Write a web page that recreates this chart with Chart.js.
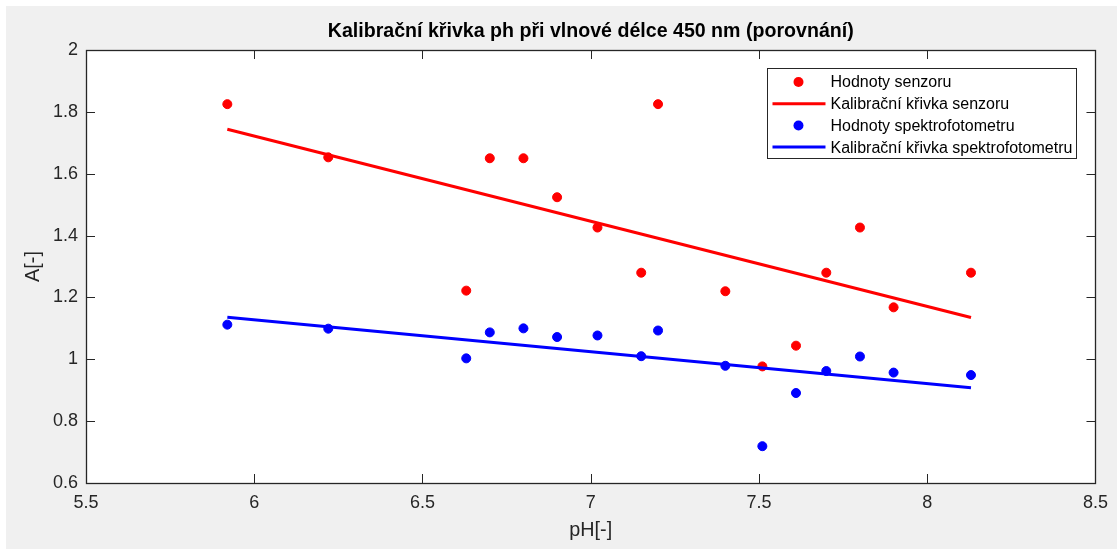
<!DOCTYPE html>
<html>
<head>
<meta charset="utf-8">
<script src="https://cdn.jsdelivr.net/npm/chart.js@4.4.1/dist/chart.umd.min.js"></script>
<style>
  html, body { margin: 0; padding: 0; background: #ffffff; }
  #wrap { width: 1117px; height: 549px; }
</style>
</head>
<body>
<div id="wrap"><canvas id="c" width="1117" height="549"></canvas></div>
<script>
// ---- data ----
const phValues = [5.92, 6.22, 6.63, 6.70, 6.80, 6.90, 7.02, 7.15, 7.20, 7.40, 7.51, 7.61, 7.70, 7.80, 7.90, 8.13];
const sensorValues = [1.825, 1.653, 1.222, 1.650, 1.650, 1.524, 1.426, 1.280, 1.825, 1.220, 0.977, 1.044, 1.280, 1.426, 1.168, 1.280];
const spectroValues = [1.112, 1.099, 1.003, 1.087, 1.100, 1.072, 1.077, 1.010, 1.093, 0.979, 0.719, 0.891, 0.962, 1.009, 0.957, 0.949];
const fitX = [5.92, 8.13];
const fitSensor = [1.744, 1.135];
const fitSpectro = [1.136, 0.908];
const xTickValues = [5.5, 6, 6.5, 7, 7.5, 8, 8.5];
const yTickValues = [0.6, 0.8, 1, 1.2, 1.4, 1.6, 1.8, 2];
const seriesLabels = ['Hodnoty senzoru', 'Kalibrační křivka senzoru', 'Hodnoty spektrofotometru', 'Kalibrační křivka spektrofotometru'];
const titleText = 'Kalibrační křivka ph při vlnové délce 450 nm (porovnání)';
const xLabel = 'pH[-]';
const yLabel = 'A[-]';

const toPts = (xs, ys) => xs.map((x, i) => ({ x: x, y: ys[i] }));
const fmtTick = (v) => String(Number(Number(v).toFixed(3)));

const FONT = "'Liberation Sans', Arial, Helvetica, sans-serif";
const AXIS_COLOR = '#262626';

const bgPlugin = {
  id: 'bgPlugin',
  beforeDraw(chart) {
    const ctx = chart.ctx;
    const a = chart.chartArea;
    ctx.save();
    ctx.fillStyle = '#ffffff';
    ctx.fillRect(0, 0, chart.width, chart.height);
    ctx.fillStyle = '#f0f0f0';
    ctx.fillRect(6, 6, chart.width - 6, chart.height - 6);
    ctx.fillStyle = '#ffffff';
    ctx.fillRect(a.left, a.top, a.right - a.left, a.bottom - a.top);
    ctx.restore();
  }
};

const boxPlugin = {
  id: 'boxPlugin',
  afterDatasetsDraw(chart) {
    const ctx = chart.ctx;
    const a = chart.chartArea;
    const xs = chart.scales.x, ys = chart.scales.y;
    const TL = 9;
    ctx.save();
    ctx.strokeStyle = AXIS_COLOR;
    ctx.lineWidth = 1;
    ctx.beginPath();
    xs.ticks.forEach(t => {
      const px = Math.round(xs.getPixelForValue(t.value)) + 0.5;
      ctx.moveTo(px, a.bottom); ctx.lineTo(px, a.bottom - TL);
      ctx.moveTo(px, a.top); ctx.lineTo(px, a.top + TL);
    });
    ys.ticks.forEach(t => {
      const py = Math.round(ys.getPixelForValue(t.value)) + 0.5;
      ctx.moveTo(a.left, py); ctx.lineTo(a.left + TL, py);
      ctx.moveTo(a.right, py); ctx.lineTo(a.right - TL, py);
    });
    ctx.stroke();
    ctx.lineWidth = 1.3;
    ctx.strokeRect(Math.round(a.left) + 0.5, Math.round(a.top) + 0.5, Math.round(a.right - a.left), Math.round(a.bottom - a.top));
    ctx.restore();
  }
};

const legendPlugin = {
  id: 'matLegend',
  afterDraw(chart) {
    const ctx = chart.ctx;
    const a = chart.chartArea;
    const right = a.right - 19, top = a.top + 18;
    const left = right - 309, bottom = top + 90;
    ctx.save();
    ctx.fillStyle = '#ffffff';
    ctx.fillRect(left, top, right - left, bottom - top);
    ctx.strokeStyle = AXIS_COLOR;
    ctx.lineWidth = 1;
    ctx.strokeRect(Math.round(left) + 0.5, Math.round(top) + 0.5, right - left, bottom - top);
    ctx.font = '16px ' + FONT;
    ctx.textBaseline = 'middle';
    ctx.textAlign = 'left';
    chart.data.datasets.forEach((ds, i) => {
      const y = top + 14 + i * 21.7;
      ctx.fillStyle = ds.borderColor;
      ctx.strokeStyle = ds.borderColor;
      if (ds.showLine) {
        ctx.lineWidth = ds.borderWidth;
        ctx.beginPath();
        ctx.moveTo(left + 5, y); ctx.lineTo(left + 58, y);
        ctx.stroke();
      } else {
        ctx.beginPath();
        ctx.arc(left + 31, y, 5, 0, Math.PI * 2);
        ctx.fill();
      }
      ctx.fillStyle = '#000000';
      ctx.fillText(ds.label, left + 63, y + 1);
    });
    ctx.restore();
  }
};

const chart = new Chart(document.getElementById('c'), {
  type: 'scatter',
  data: {
    datasets: [
      { label: seriesLabels[0], data: toPts(phValues, sensorValues), showLine: false,
        backgroundColor: '#ff0000', borderColor: '#ff0000', pointRadius: 4.5, pointBorderWidth: 1, pointHoverRadius: 4.5, order: 4 },
      { label: seriesLabels[1], data: toPts(fitX, fitSensor), showLine: true, borderWidth: 3,
        backgroundColor: '#ff0000', borderColor: '#ff0000', pointRadius: 0, pointHoverRadius: 0, order: 3 },
      { label: seriesLabels[2], data: toPts(phValues, spectroValues), showLine: false,
        backgroundColor: '#0000ff', borderColor: '#0000ff', pointRadius: 4.5, pointBorderWidth: 1, pointHoverRadius: 4.5, order: 2 },
      { label: seriesLabels[3], data: toPts(fitX, fitSpectro), showLine: true, borderWidth: 3,
        backgroundColor: '#0000ff', borderColor: '#0000ff', pointRadius: 0, pointHoverRadius: 0, order: 1 }
    ]
  },
  options: {
    responsive: false,
    animation: false,
    devicePixelRatio: 1,
    layout: { padding: { left: 0, right: 21, top: 0, bottom: 0 } },
    plugins: {
      legend: { display: false },
      tooltip: { enabled: false },
      title: {
        display: true,
        text: titleText,
        fullSize: false,
        color: '#000000',
        font: { family: FONT, size: 19.6, weight: 'bold', lineHeight: 1.2 },
        padding: { top: 20, bottom: 6.5 }
      }
    },
    scales: {
      x: {
        type: 'linear',
        min: 5.5, max: 8.5,
        afterBuildTicks: (s) => { s.ticks = xTickValues.map(v => ({ value: v })); },
        afterFit: (s) => { s.height = 66; },
        grid: { display: false, drawTicks: false },
        border: { display: false },
        ticks: { color: AXIS_COLOR, padding: 9, font: { family: FONT, size: 18 }, maxRotation: 0, callback: fmtTick },
        title: { display: true, text: xLabel, color: AXIS_COLOR, font: { family: FONT, size: 19.8, lineHeight: 1.2 }, padding: { top: 0, bottom: 7 } }
      },
      y: {
        type: 'linear',
        min: 0.6, max: 2,
        afterBuildTicks: (s) => { s.ticks = yTickValues.map(v => ({ value: v })); },
        afterFit: (s) => { s.width = 86; },
        grid: { display: false, drawTicks: false },
        border: { display: false },
        ticks: { color: AXIS_COLOR, padding: 8, font: { family: FONT, size: 18 }, callback: fmtTick },
        title: { display: true, text: yLabel, color: AXIS_COLOR, font: { family: FONT, size: 19.8, lineHeight: 1.2 }, padding: { top: 22, bottom: 0 } }
      }
    }
  },
  plugins: [bgPlugin, boxPlugin, legendPlugin]
});
</script>
</body>
</html>
